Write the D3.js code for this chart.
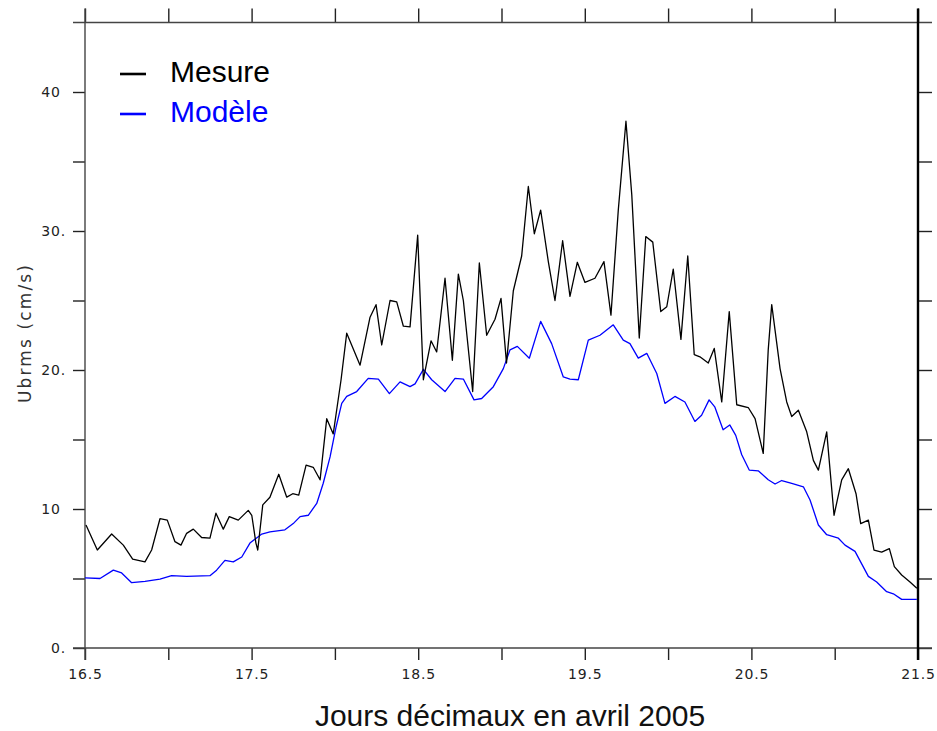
<!DOCTYPE html>
<html>
<head>
<meta charset="utf-8">
<script src="https://cdn.jsdelivr.net/npm/d3@7"></script>
<style>
  html, body { margin: 0; padding: 0; background: #fff; }
  svg { display: block; }
</style>
</head>
<body>
<svg id="chart" width="937" height="731"></svg>
<script>
// ---- data ----
const seriesNames = ["Mesure", "Modèle"];
const seriesColors = ["#000000", "#0000ff"];

const mesureDays = [16.506,16.574,16.660,16.730,16.786,16.860,16.900,16.950,16.994,17.040,17.076,17.110,17.150,17.200,17.250,17.286,17.330,17.366,17.420,17.480,17.501,17.526,17.537,17.567,17.610,17.663,17.711,17.747,17.783,17.827,17.870,17.911,17.951,17.990,18.037,18.071,18.151,18.211,18.247,18.281,18.331,18.371,18.411,18.451,18.497,18.531,18.577,18.611,18.661,18.705,18.741,18.771,18.827,18.867,18.911,18.961,18.997,19.030,19.071,19.121,19.161,19.197,19.235,19.281,19.321,19.367,19.411,19.455,19.501,19.561,19.615,19.657,19.701,19.747,19.782,19.827,19.866,19.908,19.956,19.992,20.031,20.077,20.118,20.157,20.191,20.241,20.277,20.322,20.367,20.412,20.481,20.522,20.571,20.601,20.622,20.672,20.712,20.742,20.782,20.832,20.872,20.902,20.952,20.996,21.042,21.082,21.128,21.156,21.202,21.236,21.282,21.328,21.358,21.402,21.452,21.493];
const mesureValues = [8.85,7.05,8.2,7.4,6.4,6.2,7.05,9.3,9.2,7.65,7.4,8.25,8.55,7.95,7.9,9.7,8.55,9.45,9.2,9.9,9.55,7.55,7.05,10.3,10.85,12.5,10.85,11.1,11.0,13.15,13.0,12.1,16.5,15.4,19.3,22.65,20.35,23.8,24.7,21.8,25.0,24.9,23.15,23.1,29.7,19.3,22.1,21.3,26.6,20.7,26.9,25.0,18.45,27.7,22.5,23.65,25.15,20.5,25.7,28.2,33.2,29.8,31.5,27.8,25.0,29.3,25.3,27.75,26.3,26.6,27.8,23.95,31.5,37.9,32.6,22.3,29.6,29.2,24.2,24.55,27.25,22.2,28.2,21.1,20.95,20.5,21.55,17.7,24.2,17.5,17.3,16.5,14.0,21.45,24.7,20.1,17.7,16.65,17.1,15.55,13.5,12.8,15.55,9.55,12.1,12.9,11.1,8.95,9.2,7.05,6.9,7.15,5.85,5.25,4.75,4.3];

const modeleDays = [16.500,16.590,16.670,16.720,16.780,16.860,16.950,17.020,17.110,17.250,17.290,17.340,17.390,17.441,17.490,17.561,17.610,17.700,17.750,17.791,17.840,17.891,17.930,17.971,18.007,18.041,18.071,18.131,18.200,18.261,18.327,18.391,18.451,18.481,18.531,18.581,18.661,18.721,18.771,18.835,18.881,18.951,19.011,19.051,19.095,19.167,19.235,19.301,19.371,19.411,19.461,19.521,19.591,19.671,19.731,19.771,19.821,19.872,19.932,19.981,20.041,20.101,20.161,20.201,20.246,20.280,20.330,20.370,20.406,20.442,20.487,20.541,20.601,20.642,20.682,20.742,20.812,20.852,20.902,20.952,21.022,21.062,21.122,21.202,21.252,21.312,21.352,21.402,21.493];
const modeleValues = [5.05,5.0,5.6,5.4,4.7,4.8,4.95,5.2,5.15,5.2,5.6,6.3,6.2,6.55,7.55,8.2,8.35,8.5,8.95,9.45,9.55,10.4,11.85,13.75,15.9,17.6,18.1,18.45,19.4,19.35,18.3,19.15,18.8,19.0,20.05,19.3,18.45,19.4,19.35,17.85,17.95,18.8,20.1,21.45,21.7,20.85,23.5,21.9,19.5,19.35,19.3,22.15,22.5,23.25,22.15,21.9,20.85,21.2,19.75,17.6,18.1,17.7,16.3,16.75,17.85,17.35,15.7,16.05,15.3,13.9,12.8,12.75,12.1,11.8,12.05,11.85,11.6,10.65,8.85,8.15,7.9,7.4,6.95,5.15,4.75,4.05,3.9,3.5,3.5];

const xTickValues = [16.5, 17.5, 18.5, 19.5, 20.5, 21.5];
const xTickLabels = ["16.5", "17.5", "18.5", "19.5", "20.5", "21.5"];
const xMinorTicks = [17, 18, 19, 20, 21];
const yTickValues = [0, 10, 20, 30, 40];
const yTickLabels = ["0.", "10", "20.", "30.", "40"];
const yMinorTicks = [5, 15, 25, 35];

const xTitle = "Jours décimaux en avril 2005";
const yTitle = "Ubrms (cm/s)";

// ---- layout ----
const svg = d3.select("#chart");
const L = 85, R = 918, T = 22.5, B = 648;
const x = d3.scaleLinear().domain([16.5, 21.5]).range([L, R]);
const y = d3.scaleLinear().domain([0, 45]).range([B, T]);

const axisColor = "#444";
const allX = xTickValues.concat(xMinorTicks);
const allY = yTickValues.concat(yMinorTicks);

const gB = svg.append("g").attr("transform", `translate(0,${B})`)
  .call(d3.axisBottom(x).tickValues(allX).tickSize(12).tickSizeOuter(0)
    .tickFormat(d => { const i = xTickValues.indexOf(d); return i >= 0 ? xTickLabels[i] : ""; }));
const gT = svg.append("g").attr("transform", `translate(0,${T})`)
  .call(d3.axisTop(x).tickValues(allX).tickSize(14).tickSizeOuter(0).tickFormat(""));
const gL = svg.append("g").attr("transform", `translate(${L},0)`)
  .call(d3.axisLeft(y).tickValues(allY).tickSize(12).tickSizeOuter(0)
    .tickFormat(d => { const i = yTickValues.indexOf(d); return i >= 0 ? yTickLabels[i] : ""; }));
const gR = svg.append("g").attr("transform", `translate(${R},0)`)
  .call(d3.axisRight(y).tickValues(allY).tickSize(14).tickSizeOuter(0).tickFormat(""));

[gB, gT, gL, gR].forEach(g => {
  g.select(".domain").remove();
  g.selectAll(".tick line").attr("stroke", "#222").attr("stroke-width", 1.4);
  g.selectAll(".tick text").attr("fill", "#222")
    .style("font-family", "'DejaVu Sans', sans-serif").style("font-size", "14px")
    .style("letter-spacing", "0.8px");
});
gB.selectAll(".tick text").attr("y", 21).attr("dy", "0.71em");
gL.selectAll(".tick text").attr("x", -19).each(function () {
  const t = d3.select(this);
  const s = t.text();
  if (!s.endsWith(".")) {
    t.append("tspan").attr("fill-opacity", 0).text(".");
  }
});

// Frame lines extending past the corners
const frame = svg.append("g").attr("stroke", axisColor).attr("stroke-width", 1.4);
frame.append("line").attr("x1", L - 12).attr("x2", R + 14).attr("y1", T).attr("y2", T);
frame.append("line").attr("x1", L - 12).attr("x2", R + 14).attr("y1", B).attr("y2", B);
frame.append("line").attr("x1", L).attr("x2", L).attr("y1", T - 14).attr("y2", B + 12);
svg.append("line").attr("x1", R).attr("x2", R).attr("y1", T - 14).attr("y2", B + 12)
  .attr("stroke", "#000").attr("stroke-width", 2.4);

// Lines
const line = d3.line().x(d => x(d[0])).y(d => y(d[1]));
const mesure = mesureDays.map((d, i) => [d, mesureValues[i]]);
const modele = modeleDays.map((d, i) => [d, modeleValues[i]]);

svg.append("path").datum(modele).attr("d", line)
  .attr("fill", "none").attr("stroke", seriesColors[1]).attr("stroke-width", 1.3)
  .attr("stroke-linejoin", "round");
svg.append("path").datum(mesure).attr("d", line)
  .attr("fill", "none").attr("stroke", seriesColors[0]).attr("stroke-width", 1.3)
  .attr("stroke-linejoin", "round");

// Legend
const legend = svg.append("g");
seriesNames.forEach((name, i) => {
  const yy = 74 + i * 40;
  legend.append("line").attr("x1", 120).attr("x2", 146).attr("y1", yy).attr("y2", yy)
    .attr("stroke", seriesColors[i]).attr("stroke-width", 2.6);
  legend.append("text").attr("x", 170).attr("y", yy + 8)
    .attr("fill", seriesColors[i])
    .style("font-family", "'Liberation Sans', Arial, sans-serif").style("font-size", "30px")
    .text(name);
});

// Axis titles
svg.append("text").attr("x", 510).attr("y", 726).attr("text-anchor", "middle")
  .attr("fill", "#111")
  .style("font-family", "'Liberation Sans', Arial, sans-serif").style("font-size", "30px")
  .text(xTitle);

svg.append("text").attr("transform", "translate(31,334) rotate(-90)")
  .attr("text-anchor", "middle").attr("fill", "#333")
  .attr("textLength", 138).attr("lengthAdjust", "spacing")
  .style("font-family", "'DejaVu Sans', sans-serif").style("font-size", "17px")
  .text(yTitle);
</script>
</body>
</html>
